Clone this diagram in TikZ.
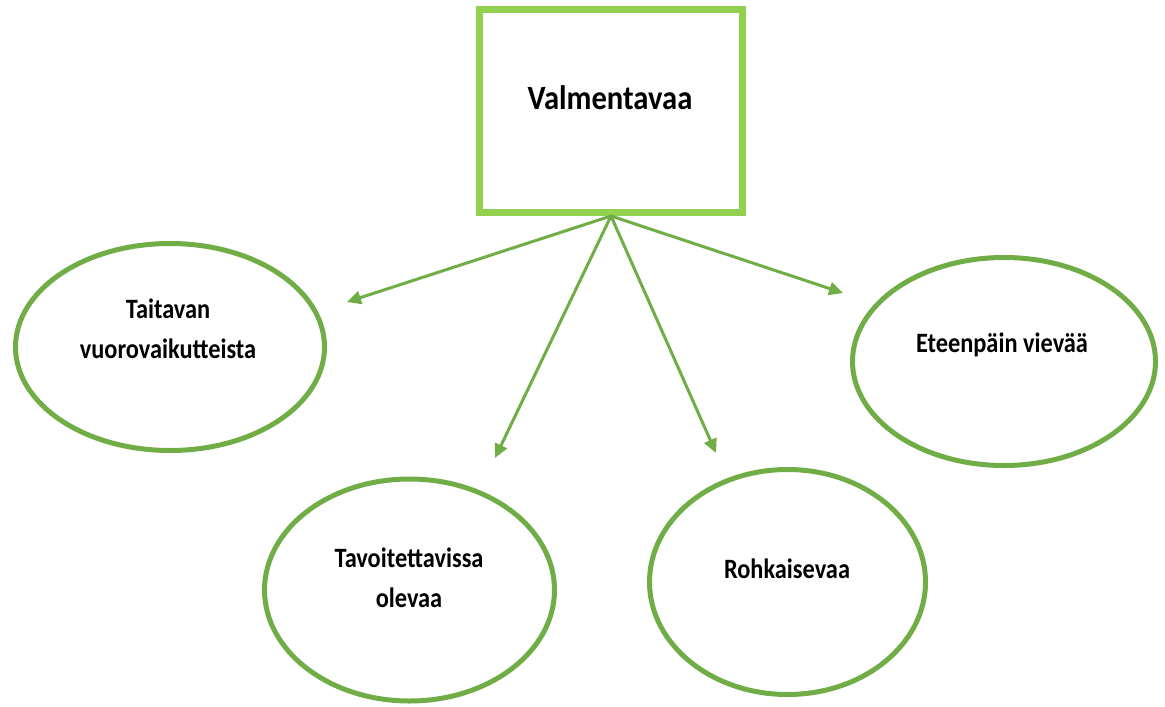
\documentclass[tikz,border=0pt]{standalone}
\usepackage{fontspec}
\setmainfont{Carlito}
\newfontfamily\labelfont[FakeStretch=0.87]{Carlito}
\newfontfamily\titlefont[FakeStretch=0.9]{Carlito}
\usetikzlibrary{arrows.meta, positioning, shapes.geometric}

\definecolor{boxgreen}{RGB}{146,208,80}
\definecolor{linegreen}{RGB}{112,173,71}

\begin{document}
\begin{tikzpicture}[x=0.5pt, y=-0.5pt,
    trait/.style={draw=linegreen, ellipse, line width=2.5pt, inner sep=0pt},
    label text/.style={font=\labelfont\bfseries\fontsize{14}{20}\selectfont, align=center, anchor=base, inner sep=0pt},
    link/.style={draw=linegreen, line width=1.5pt, -{Triangle[length=7pt, width=6.5pt]}}
    ]
    \useasboundingbox (0,0) rectangle (1165,706);

    % main box at the top
    \node[draw=boxgreen, line width=3.5pt, minimum width=131.5pt, minimum height=101.5pt, inner sep=0pt] (coach) at (611,111) {};
    \node[font=\titlefont\bfseries\fontsize{17}{20}\selectfont, anchor=base, inner sep=0pt] (coachtxt) at (610,110) {Valmentavaa};

    % the four ellipses
    \node[trait, minimum width=154.5pt, minimum height=103.5pt] (skilled) at (170,347) {};
    \node[trait, minimum width=151.5pt, minimum height=104pt] (forward) at (1004,361.5) {};
    \node[trait, minimum width=145pt, minimum height=111pt] (reach) at (409.5,590) {};
    \node[trait, minimum width=138pt, minimum height=112.5pt] (encourage) at (787.5,582) {};

    % texts inside them (base = last line)
    \node[label text] (skilledtxt) at (168,358) {Taitavan\\vuorovaikutteista};
    \node[label text] (forwardtxt) at (1002,352) {Eteenpäin vievää};
    \node[label text] (reachtxt) at (409,607) {Tavoitettavissa\\olevaa};
    \node[label text] (encouragetxt) at (787,578) {Rohkaisevaa};

    % arrow ends
    \coordinate (tipskilled) at (347,302);
    \coordinate (tipforward) at (843,293);
    \coordinate (tipreach) at (495,458);
    \coordinate (tipencourage) at (716,453);

    \draw[link] (coach.south) -- (tipskilled);
    \draw[link] (coach.south) -- (tipforward);
    \draw[link] (coach.south) -- (tipreach);
    \draw[link] (coach.south) -- (tipencourage);
\end{tikzpicture}
\end{document}
